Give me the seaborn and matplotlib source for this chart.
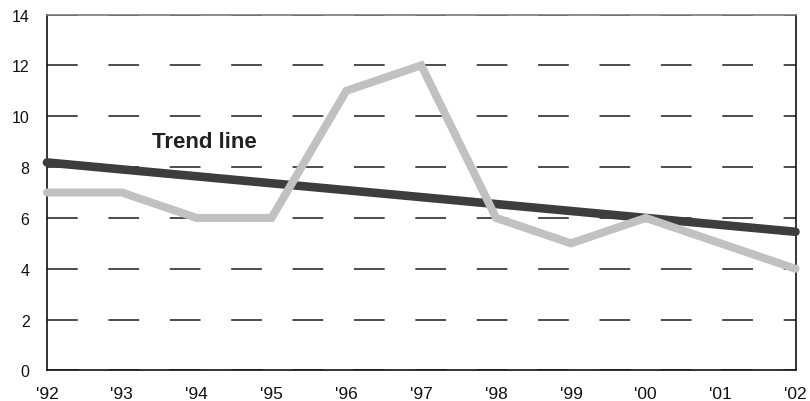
import matplotlib
matplotlib.use("Agg")
import matplotlib.pyplot as plt
import seaborn as sns
import pandas as pd

# Yearly values and axis labels
years = [1992, 1993, 1994, 1995, 1996, 1997, 1998, 1999, 2000, 2001, 2002]
values = [7, 7, 6, 6, 11, 12, 6, 5, 6, 5, 4]
year_labels = ["'92", "'93", "'94", "'95", "'96", "'97", "'98", "'99", "'00", "'01", "'02"]
y_ticks = [0, 2, 4, 6, 8, 10, 12, 14]
trend_label = "Trend line"

df = pd.DataFrame({"year": years, "value": values})

sns.set_theme(style="white")
plt.rcParams["font.family"] = ["Liberation Sans", "DejaVu Sans"]
plt.rcParams["lines.scale_dashes"] = False

fig = plt.figure(figsize=(8.10, 4.02), dpi=100)
ax = fig.add_axes([0.0580, 0.0759, 0.9241, 0.8855])

# Least-squares trend through the yearly values
sns.regplot(data=df, x="year", y="value", ax=ax, scatter=False, ci=None,
            line_kws=dict(color="#3d3d3d", lw=6.2, solid_capstyle="round",
                          clip_on=False, zorder=3))

# Yearly series
sns.lineplot(data=df, x="year", y="value", ax=ax, color="#c1c1c1", lw=5.8,
             solid_capstyle="round", solid_joinstyle="miter", clip_on=False,
             zorder=4)

ax.set_xlim(years[0], years[-1])
ax.set_ylim(y_ticks[0], y_ticks[-1])
ax.set_xticks(years)
ax.set_xticklabels(year_labels)
ax.set_yticks(y_ticks)
ax.set_xlabel("")
ax.set_ylabel("")

ax.tick_params(axis="y", length=0, pad=12.5, labelsize=11.5, labelcolor="#111111")
ax.tick_params(axis="x", length=0, pad=11, labelsize=12.5, labelcolor="#111111")

# Horizontal dashed grid
ax.yaxis.grid(True, color="#2e2e2e", lw=1.2, linestyle=(0, (22.1, 22.1)))
ax.xaxis.grid(False)
ax.set_axisbelow(True)

for side in ["left", "right", "bottom"]:
    ax.spines[side].set_color("#111111")
    ax.spines[side].set_linewidth(1.2)
ax.spines["top"].set_color("#7a7a7a")
ax.spines["top"].set_linewidth(1.2)

ax.text(1993.405, 8.78, trend_label, fontsize=16, fontweight="bold",
        color="#222222", ha="left", va="baseline", zorder=5)

fig.savefig("out.png", dpi=100)
